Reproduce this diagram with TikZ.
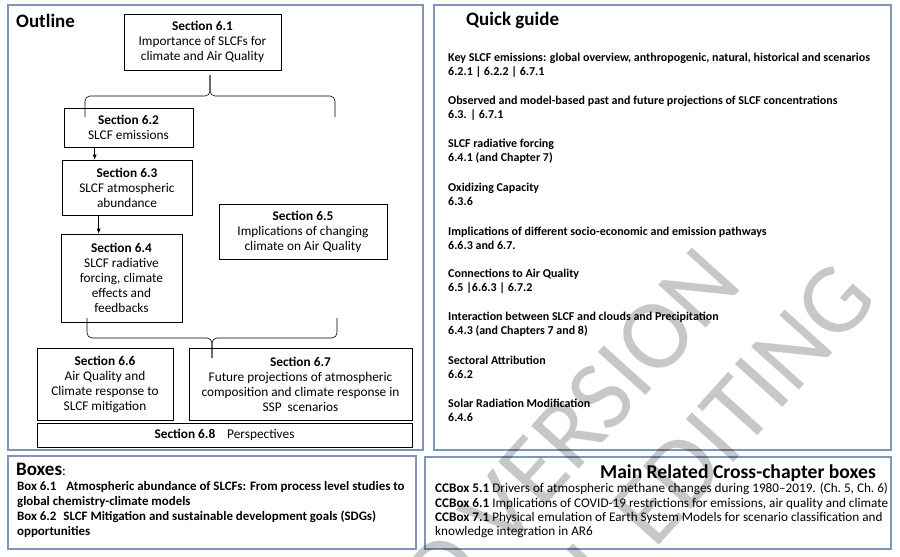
\documentclass[tikz,border=0pt]{standalone}
\usepackage{fontspec}
\setmainfont{Carlito}
\usetikzlibrary{arrows.meta,positioning}
\definecolor{panelblue}{RGB}{125,150,185}

\tikzset{
    panel/.style={draw=panelblue, line width=1.3pt, inner sep=0pt},
    secbox/.style={draw, line width=0.6pt, align=center, inner sep=0pt,
                   font=\fontsize{13.3}{15}\selectfont},
    headline/.style={font=\fontsize{19}{22}\selectfont\bfseries, inner sep=0pt},
    guide/.style={font=\fontsize{12}{14}\selectfont\bfseries, align=left,
                  anchor=west, inner sep=0pt},
    flow/.style={-{Latex[length=5pt,width=4pt]}, line width=0.6pt},
    curly/.style={line width=0.6pt, rounded corners=5pt},
    watermark/.style={text=black, text opacity=0.22, rotate=48, inner sep=0pt,
                      font=\fontsize{100}{100}\selectfont}
}

\begin{document}
\begin{tikzpicture}[x=1pt,y=-1pt]
    \useasboundingbox (0,0) rectangle (900,557);

    % four panels
    \node[panel, minimum width=415, minimum height=445] (outline) at (215.5,227.5) {};
    \node[panel, minimum width=457, minimum height=445] (quick) at (662.5,227.5) {};
    \node[panel, minimum width=408, minimum height=93] (boxes) at (212,502.5) {};
    \node[panel, minimum width=466, minimum height=92] (ccboxes) at (658,503) {};

    \node[headline, anchor=west] (outlinetitle) at (16,21) {Outline};
    \node[headline, anchor=west] (quicktitle) at (466,20) {Quick guide};

    % outline sections
    \node[secbox, minimum width=157, minimum height=56] (s61) at (202.5,42)
        {\textbf{Section 6.1}\\Importance of SLCFs for\\climate and Air Quality};
    \node[secbox, minimum width=129, minimum height=39] (s62) at (128.5,127.5)
        {\textbf{Section 6.2}\\SLCF emissions};
    \node[secbox, minimum width=130, minimum height=55] (s63) at (127,187.5)
        {\textbf{Section 6.3}\\SLCF atmospheric\\abundance};
    \node[secbox, minimum width=121, minimum height=88] (s64) at (121.5,278)
        {\textbf{Section 6.4}\\SLCF radiative\\forcing, climate\\effects and\\feedbacks};
    \node[secbox, minimum width=168, minimum height=55] (s65) at (303,231.5)
        {\textbf{Section 6.5}\\Implications of changing\\climate on Air Quality};
    \node[secbox, minimum width=136, minimum height=72] (s66) at (105,384)
        {\textbf{Section 6.6}\\Air Quality and\\Climate response to\\SLCF mitigation};
    \node[secbox, minimum width=223, minimum height=72] (s67) at (300.5,384)
        {\textbf{Section 6.7}\\Future projections of atmospheric\\composition and climate response in\\SSP\ \ scenarios};
    \node[secbox, minimum width=375, minimum height=24] (s68) at (224.5,435)
        {\textbf{Section 6.8}\hspace{12pt}Perspectives};

    % arrows
    \coordinate (a62) at ([xshift=31pt]s62.south west);
    \draw[flow] (a62) -- (a62 |- s63.north);
    \coordinate (a63) at ([xshift=37pt]s63.south west);
    \draw[flow] (a63) -- (a63 |- s64.north);

    % upper brace
    \coordinate (tb-l) at (85,117);
    \coordinate (tb-r) at (335,117);
    \coordinate (tb-m) at (210,96);
    \coordinate (tb-tip) at (210,75);
    \draw[curly] (tb-l) |- (tb-m) -- (tb-tip);
    \draw[curly] (tb-r) |- (tb-m) -- (tb-tip);

    % lower brace
    \coordinate (bb-l) at (87,318);
    \coordinate (bb-r) at (337,318);
    \coordinate (bb-m) at (212,338);
    \coordinate (bb-tip) at (212,358);
    \draw[curly] (bb-l) |- (bb-m) -- (bb-tip);
    \draw[curly] (bb-r) |- (bb-m) -- (bb-tip);

    % quick guide entries
    \foreach \topic/\secs [count=\i from 0] in {
        {Key SLCF emissions: global overview, anthropogenic, natural, historical and scenarios}/{6.2.1 | 6.2.2 | 6.7.1},
        {Observed and model-based past and future projections of SLCF concentrations}/{6.3. | 6.7.1},
        {SLCF radiative forcing}/{6.4.1 (and Chapter 7)},
        {Oxidizing Capacity}/{6.3.6},
        {Implications of different socio-economic and emission pathways}/{6.6.3 and 6.7.},
        {Connections to Air Quality}/{6.5 |6.6.3 | 6.7.2},
        {Interaction between SLCF and clouds and Precipitation}/{6.4.3 (and Chapters 7 and 8)},
        {Sectoral Attribution}/{6.6.2},
        {Solar Radiation Modification}/{6.4.6}}
    \node[guide] (qg\i) at (448,{65.5+43.1*\i}) {\topic\\\secs};

    % boxes
    \node[inner sep=0pt, anchor=west] (boxestitle) at (16,469)
        {\fontsize{19}{22}\selectfont\bfseries Boxes\mdseries\fontsize{14}{16}\selectfont:};
    \node[anchor=west, align=left, inner sep=0pt, font=\fontsize{12.9}{15}\selectfont\bfseries]
        (boxlist) at (17,509.5)
        {Box 6.1\hspace{10pt}Atmospheric abundance of SLCFs: From process level studies to\\
         global chemistry-climate models\\
         Box 6.2\hspace{7pt}SLCF Mitigation and sustainable development goals (SDGs)\\
         opportunities};

    % cross-chapter boxes
    \node[headline, font=\fontsize{19.6}{22}\selectfont\bfseries, anchor=east] (cctitle) at (876,473)
        {Main Related Cross-chapter boxes};
    \node[anchor=west, align=left, inner sep=0pt, font=\fontsize{13.2}{14.3}\selectfont]
        (cclist) at (435,510.5)
        {\textbf{CCBox 5.1} Drivers of atmospheric methane changes during 1980--2019. (Ch.~5, Ch.~6)\\
         \textbf{CCBox 6.1} Implications of COVID-19 restrictions for emissions, air quality and climate\\
         \textbf{CCBox 7.1} Physical emulation of Earth System Models for scenario classification and\\
         knowledge integration in AR6};

    % watermark
    \begin{scope}
        \clip (0,0) rectangle (900,557);
        \node[watermark, anchor=base east] (wm1) at (745,285) {ACCEPTED VERSION};
        \node[watermark, anchor=base east] (wm2) at (880,300) {SUBJECT TO FINAL EDITING};
    \end{scope}
\end{tikzpicture}
\end{document}
